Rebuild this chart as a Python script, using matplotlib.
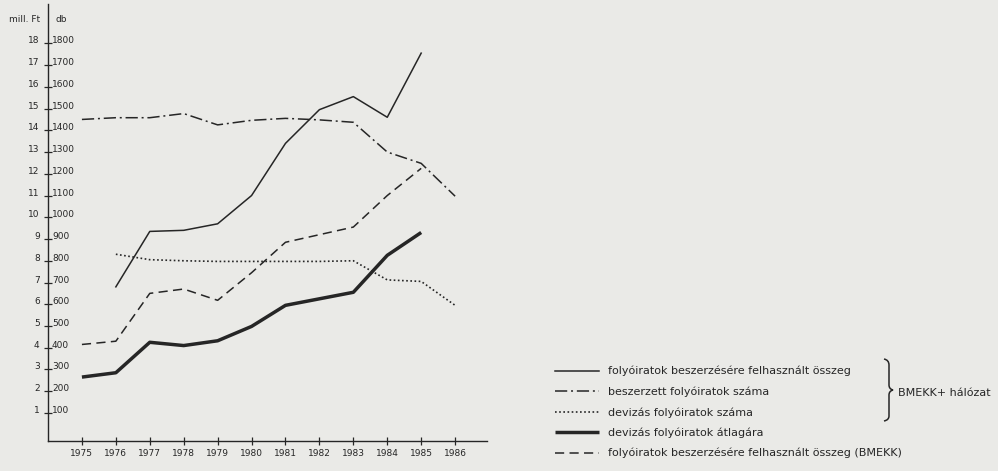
import matplotlib
matplotlib.use("Agg")
import matplotlib.pyplot as plt
from matplotlib.path import Path
from matplotlib.patches import PathPatch
import matplotlib.transforms as mtransforms
import numpy as np

# adatok (leolvasva a diagramrol)
years = [1975, 1976, 1977, 1978, 1979, 1980, 1981, 1982, 1983, 1984, 1985, 1986]
osszeg = [np.nan, 680, 935, 940, 970, 1100, 1340, 1495, 1555, 1460, 1755, np.nan]
beszerzett = [1450, 1458, 1458, 1477, 1425, 1446, 1455, 1448, 1437, 1300, 1248, 1097]
deviza_szam = [np.nan, 830, 805, 800, 797, 797, 797, 797, 800, 712, 705, 595]
atlagar = [265, 285, 425, 410, 432, 498, 595, 625, 655, 825, 930, np.nan]
bmekk = [415, 430, 650, 670, 618, 745, 885, 920, 955, 1100, 1225, np.nan]

mill_labels = [str(i) for i in range(1, 19)]
db_ticks = list(range(100, 1900, 100))

labels = [
    "folyóiratok beszerzésére felhasznált összeg",
    "beszerzett folyóiratok száma",
    "devizás folyóiratok száma",
    "devizás folyóiratok átlagára",
    "folyóiratok beszerzésére felhasznált összeg (BMEKK)",
]

W, H = 998, 471
bg = "#eaeae7"
ink = "#262626"

fig = plt.figure(figsize=(W / 100, H / 100), dpi=100, facecolor=bg)
ax = fig.add_axes([48 / W, 1 - 441 / H, (487 - 48) / W, (441 - 4) / H])
ax.set_facecolor(bg)


def px(x, y):
    return (x / W, 1 - y / H)


l1, = ax.plot(years, osszeg, color=ink, lw=1.1)
l2, = ax.plot(years, beszerzett, color=ink, lw=1.1, dashes=(8, 2.5, 1.3, 2.5))
l3, = ax.plot(years, deviza_szam, color=ink, lw=1.2, dashes=(1, 1.5))
l4, = ax.plot(years, atlagar, color=ink, lw=2.5, solid_capstyle="butt")
l5, = ax.plot(years, bmekk, color=ink, lw=1.1, dashes=(6, 3.5))

ax.set_xlim(1974.0, 1986.94)
ax.set_ylim(-29, 1981)

for s in ["top", "right"]:
    ax.spines[s].set_visible(False)
for s in ["left", "bottom"]:
    ax.spines[s].set_color(ink)
    ax.spines[s].set_linewidth(1.0)

ax.set_xticks(years)
ax.set_xticklabels([str(y) for y in years])
ax.tick_params(axis="x", direction="inout", length=6, width=0.9, colors=ink,
               labelsize=6.5, pad=3)

ax.set_yticks(db_ticks)
ax.set_yticklabels(mill_labels, va="baseline")
ax.tick_params(axis="y", direction="inout", length=6, width=0.9, colors=ink,
               labelsize=6.5, pad=3)

# db skala a tengely jobb oldalan
off = mtransforms.ScaledTranslation(4 / 100, 0, fig.dpi_scale_trans)
for v in db_ticks:
    ax.text(0, v, str(v), transform=ax.get_yaxis_transform() + off,
            ha="left", va="baseline", fontsize=6.5, color=ink)

fig.text(*px(40, 19), "mill. Ft", ha="right", va="center", fontsize=6.5, color=ink)
fig.text(*px(55, 19), "db", ha="left", va="center", fontsize=6.5, color=ink)

fs = 8
leg = fig.legend([l1, l2, l3, l4, l5], labels, loc="upper left",
                 bbox_to_anchor=px(555, 366), frameon=False, fontsize=fs,
                 handlelength=3.96, handletextpad=0.81, labelspacing=0.9,
                 borderpad=0, borderaxespad=0)
for t in leg.get_texts():
    t.set_color(ink)

# kapcsos zarojel
verts = [px(884, 359), px(889, 360), px(889, 365),
         px(889, 385),
         px(889, 389), px(893, 390), px(893, 390),
         px(889, 391), px(889, 395),
         px(889, 416),
         px(889, 420), px(884, 421)]
codes = [Path.MOVETO, Path.CURVE3, Path.CURVE3,
         Path.LINETO,
         Path.CURVE3, Path.CURVE3, Path.LINETO,
         Path.CURVE3, Path.CURVE3,
         Path.LINETO,
         Path.CURVE3, Path.CURVE3]
fig.add_artist(PathPatch(Path(verts, codes), transform=fig.transFigure,
                         fill=False, edgecolor=ink, lw=1.1))
fig.text(*px(898, 393), "BMEKK+ hálózat", ha="left", va="center",
         fontsize=fs, color=ink)

fig.savefig("out.png", dpi=100, facecolor=bg)
